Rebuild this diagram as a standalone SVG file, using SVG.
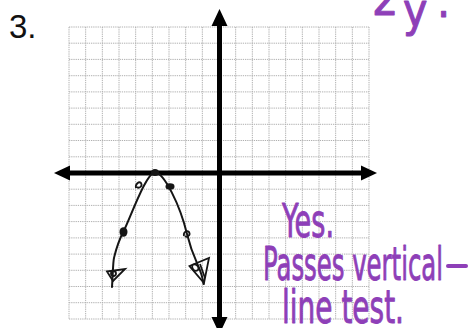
<svg xmlns="http://www.w3.org/2000/svg" width="468" height="328" viewBox="0 0 468 328">
<style>
.grid{stroke:#b0b0b0;stroke-width:1;stroke-dasharray:1.3 0.9;fill:none}
.axis{stroke:#000;stroke-width:5;fill:none}
.head{fill:#000}
.curve{stroke:#151515;stroke-width:2;fill:none;stroke-linecap:round;stroke-linejoin:round}
.dot{fill:#151515}
.loop{stroke:#151515;stroke-width:1.8;fill:none}
.hand{font-family:"Liberation Sans Narrow","DejaVu Sans Condensed","Liberation Sans",sans-serif;fill:#8e3fb8;stroke:#8e3fb8;stroke-width:0.9;stroke-linejoin:round;font-size:46px}
.num{font-family:"Liberation Sans",Arial,sans-serif;fill:#111;font-size:33px}
</style>
<rect width="468" height="328" fill="#fff"/>
<text class="num" x="9" y="38">3.</text>
<g id="grid">
<path class="grid" d="M69,27V319M85.67,27V319M102.33,27V319M119,27V319M135.67,27V319M152.33,27V319M169,27V319M185.67,27V319M202.33,27V319M235.67,27V319M252.33,27V319M269,27V319M285.67,27V319M302.33,27V319M319,27V319M335.67,27V319M352.33,27V319M369,27V319"/>
<path class="grid" d="M69,27H369M69,43.2H369M69,59.4H369M69,75.7H369M69,91.9H369M69,108.1H369M69,124.3H369M69,140.5H369M69,156.8H369M69,189.2H369M69,205.4H369M69,221.6H369M69,237.9H369M69,254.1H369M69,270.3H369M69,286.5H369M69,302.7H369M69,319H369"/>
</g>
<g id="axes">
<path class="axis" d="M66,173H365M219.5,24V320"/>
<polygon class="head" points="54,173 70,165.5 70,180.5"/>
<polygon class="head" points="377,173 361,165.5 361,180.5"/>
<polygon class="head" points="219.5,9 211.5,26 227.5,26"/>
<polygon class="head" points="219.5,334 211.5,317 227.5,317"/>
</g>
<g id="graph">
<path class="curve" d="M112,287 C113,272 113,262 114,258 S117,244 123.5,231.5 S146,172.5 155,172.5 S180,205 187,234 S202,268 203.5,284"/>
<ellipse class="dot" cx="155" cy="172.5" rx="4" ry="3.5"/>
<ellipse class="dot" cx="170" cy="186.5" rx="4.5" ry="3.2"/>
<ellipse class="dot" cx="123.5" cy="232" rx="4" ry="4.8"/>
<path class="loop" d="M136,188 C135,184 139,181 141,183 C143,186 139,189 137,187"/>
<path class="loop" d="M184,236 C183,232 187,230 189,232 C191,235 187,238 185,236"/>
<polygon class="loop" points="107,271.5 125,269 113,281"/>
<circle class="loop" cx="113.5" cy="273.5" r="2.5"/>
<polygon class="loop" points="189.5,266 209,258 204,283" stroke-width="2"/>
<path class="loop" d="M192,265 C196,263 200,267 198,270 C195,272 192,270 192,265 M200,264 L205,278"/>
</g>
<g id="notes">
<text class="hand" x="372" y="15">2</text>
<text class="hand" x="403" y="26">y</text>
<text class="hand" x="437" y="17">.</text>
<text class="hand" x="282" y="237" textLength="52" lengthAdjust="spacingAndGlyphs">Yes.</text>
<text class="hand" x="263" y="280" textLength="180" lengthAdjust="spacingAndGlyphs">Passes vertical</text>
<path d="M448,266H466" stroke="#8e3fb8" stroke-width="4" stroke-linecap="round"/>
<text class="hand" x="282" y="323" textLength="122" lengthAdjust="spacingAndGlyphs">line test.</text>
</g>
</svg>
